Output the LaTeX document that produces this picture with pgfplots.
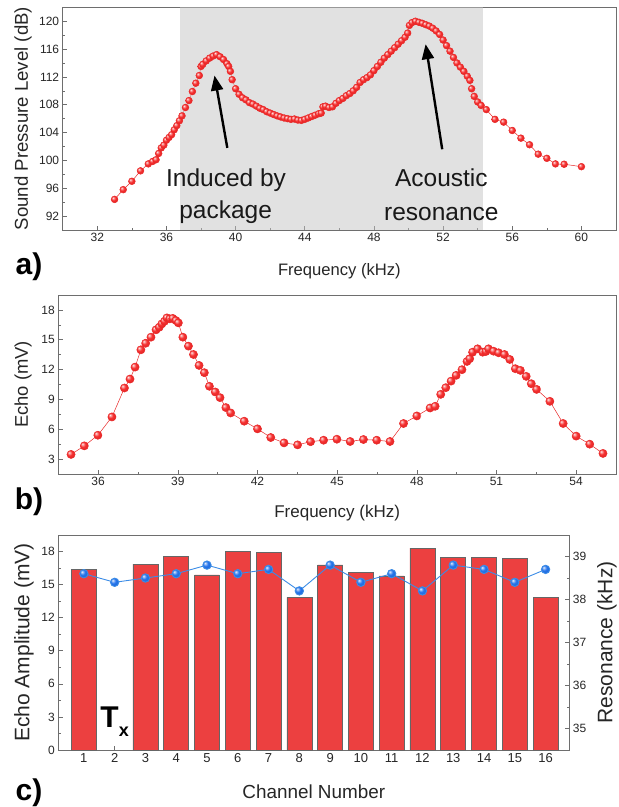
\documentclass[border=0pt]{standalone}
\usepackage{pgfplots}
\pgfplotsset{compat=1.18}
\usepackage{fontspec}
\setmainfont{Liberation Sans}
\usetikzlibrary{arrows.meta}
\makeatletter
\pgfdeclareradialshading[tikz@ball]{ball}{\pgfqpoint{-12bp}{12bp}}{%
  color(0bp)=(tikz@ball!10!white);
  color(8bp)=(tikz@ball!60!white);
  color(16bp)=(tikz@ball);
  color(30bp)=(tikz@ball!92!black);
  color(45bp)=(tikz@ball!75!black);
  color(60bp)=(tikz@ball!60!black)}
\makeatother
\definecolor{myred}{RGB}{232,40,40}
\definecolor{ballred}{RGB}{245,45,45}
\definecolor{barred}{RGB}{236,64,64}
\definecolor{myblue}{RGB}{35,115,235}
\definecolor{lineblue}{RGB}{60,140,230}
\definecolor{shadegray}{RGB}{195,195,195}
\definecolor{framegray}{RGB}{110,110,110}
\pgfplotsset{
  myaxis/.style={
    scale only axis,
    anchor=north west,
    tick align=inside,
    tick pos=left,
    axis line style={framegray, line width=0.8pt},
    every tick/.style={framegray, line width=0.6pt},
    major tick length=4.5pt,
    minor tick length=2.5pt,
    /pgf/number format/assume math mode=true,
    tick label style={font=\fontsize{12}{12}\selectfont, text=black!85},
    label style={text=black!85},
  }
}
\begin{document}
\begin{tikzpicture}
\path[use as bounding box] (0,0) rectangle (619pt,-807pt);
% ---------------- panel a ----------------
\begin{axis}[myaxis,
  at={(62.7pt,-7.3pt)}, width=553.3pt, height=222.7pt,
  xmin=30, xmax=62, ymin=90, ymax=122,
  xtick={32,36,...,60}, ytick={92,96,...,120},
  minor x tick num=1, minor y tick num=1,
  xlabel={Frequency (kHz)}, ylabel={Sound Pressure Level (dB)},
  x label style={at={(axis description cs:0.5,-0.184)}, anchor=center, font=\fontsize{16.6}{16.6}\selectfont},
  y label style={at={(axis description cs:-0.0718,0.5)}, anchor=center, font=\fontsize{18.6}{18.6}\selectfont},
]
\addplot[myred, line width=0.5pt, mark=ball, mark size=3.4pt, mark options={ball color=ballred}] table {
33.0 94.4
33.5 95.8
34.0 97.0
34.5 98.5
34.95 99.5
35.2 99.85
35.4 100.1
35.55 101.0
35.7 101.8
35.85 102.2
36.0 102.9
36.15 103.3
36.3 103.7
36.45 104.4
36.6 105.0
36.75 105.7
36.9 106.4
37.1 107.6
37.3 108.6
37.5 109.9
37.7 111.1
37.9 112.2
38.0 113.5
38.1 113.8
38.3 114.3
38.5 114.7
38.7 115.0
38.9 115.2
39.1 114.9
39.3 114.5
39.5 113.9
39.6 113.5
39.7 112.8
39.8 111.6
40.0 110.3
40.2 109.5
40.4 109.0
40.6 108.7
40.8 108.3
41.0 108.1
41.2 107.8
41.4 107.5
41.6 107.3
41.8 107.0
42.0 106.8
42.2 106.6
42.4 106.4
42.6 106.25
42.8 106.1
43.0 106.0
43.2 105.9
43.4 105.95
43.6 105.8
43.8 105.75
44.0 105.9
44.2 106.1
44.4 106.3
44.6 106.5
44.8 106.7
44.95 106.8
45.05 107.7
45.2 107.8
45.4 107.6
45.6 107.7
45.8 108.2
46.0 108.6
46.2 108.9
46.4 109.3
46.6 109.6
46.8 110.0
47.0 110.5
47.2 111.2
47.4 111.6
47.6 111.9
47.8 112.3
48.0 112.9
48.2 113.5
48.4 114.1
48.6 114.7
48.8 115.2
49.0 115.7
49.2 116.2
49.4 116.7
49.6 117.2
49.8 117.7
49.95 118.3
50.05 119.4
50.2 119.8
50.4 120.0
50.6 119.85
50.8 119.7
51.0 119.5
51.2 119.3
51.4 119.0
51.6 118.6
51.8 118.1
52.0 117.3
52.2 116.5
52.4 115.7
52.6 114.8
52.8 114.0
53.0 113.4
53.2 112.8
53.4 112.1
53.55 111.5
53.65 110.3
53.8 109.2
54.0 108.4
54.2 107.9
54.5 107.3
55.0 105.9
55.5 105.5
56.0 104.3
56.5 103.2
57.0 102.25
57.5 100.9
58.0 100.3
58.5 99.5
59.0 99.45
60.0 99.1
};
\fill[shadegray, opacity=0.5] (axis cs:36.8,90) rectangle (axis cs:54.3,122);
\draw[line width=2.4pt, -{Triangle[length=15pt,width=12pt]}] (axis cs:39.52,101.8) -- (axis cs:38.78,112.2);
\draw[line width=2.4pt, -{Triangle[length=15pt,width=12pt]}] (axis cs:51.95,101.6) -- (axis cs:50.99,116.7);
\node[anchor=base, font=\fontsize{24.5}{24.5}\selectfont, text=black!90] at (axis cs:39.45,96.23) {Induced by};
\node[anchor=base, font=\fontsize{24.5}{24.5}\selectfont, text=black!90] at (axis cs:39.42,91.7) {package};
\node[anchor=base, font=\fontsize{24.5}{24.5}\selectfont, text=black!90] at (axis cs:51.9,96.23) {Acoustic};
\node[anchor=base, font=\fontsize{24.5}{24.5}\selectfont, text=black!90] at (axis cs:51.9,91.4) {resonance};
\end{axis}
% ---------------- panel b ----------------
\begin{axis}[myaxis,
  at={(58.3pt,-295pt)}, width=557.7pt, height=179pt,
  xmin=34.5, xmax=55.5, ymin=1.5, ymax=19.5,
  xtick={36,39,...,54}, ytick={3,6,...,18},
  minor x tick num=1, minor y tick num=1,
  xlabel={Frequency (kHz)}, ylabel={Echo (mV)},
  x label style={at={(axis description cs:0.5,-0.218)}, anchor=center, font=\fontsize{17}{17}\selectfont},
  y label style={at={(axis description cs:-0.0633,0.5)}, anchor=center, font=\fontsize{18.4}{18.4}\selectfont},
]
\addplot[myred, line width=0.5pt, mark=ball, mark size=4.1pt, mark options={ball color=ballred}] table {
34.98 3.47
35.48 4.33
35.99 5.40
36.52 7.24
36.99 10.15
37.20 11.05
37.39 12.25
37.61 13.99
37.79 14.65
37.99 15.26
38.18 16.00
38.30 16.26
38.40 16.60
38.50 16.86
38.59 17.20
38.70 17.10
38.81 17.15
38.93 16.93
39.02 16.70
39.19 15.26
39.40 14.36
39.59 13.52
39.80 12.42
40.00 11.69
40.19 10.32
40.41 9.75
40.59 9.18
40.81 8.18
40.99 7.64
41.50 6.81
42.00 6.04
42.50 5.17
43.00 4.63
43.51 4.43
44.00 4.75
44.49 4.90
44.99 5.00
45.49 4.77
45.99 4.97
46.49 4.90
46.99 4.77
47.50 6.58
48.00 7.34
48.50 8.14
48.69 8.31
48.90 9.51
49.09 10.18
49.29 10.84
49.48 11.42
49.70 11.99
49.89 12.82
49.99 13.09
50.10 13.75
50.29 14.09
50.48 13.75
50.60 13.82
50.70 14.09
50.89 13.85
51.08 13.69
51.30 13.52
51.50 13.02
51.71 12.09
51.90 11.92
52.12 11.32
52.31 10.58
52.51 10.01
53.01 8.81
53.51 6.58
54.00 5.31
54.51 4.50
55.01 3.57
};
\end{axis}
% ---------------- panel c ----------------
\begin{axis}[myaxis,
  at={(58.3pt,-535pt)}, width=511pt, height=215pt,
  xmin=0.17, xmax=16.77, ymin=0, ymax=19.5,
  xtick={1,...,16}, ytick={0,3,...,18},
  minor y tick num=1,
  x tick label style={font=\fontsize{13}{13}\selectfont},
  xlabel={Channel Number}, ylabel={Echo Amplitude (mV)},
  x label style={at={(axis description cs:0.5,-0.195)}, anchor=center, font=\fontsize{18.9}{18.9}\selectfont},
  y label style={at={(axis description cs:-0.0671,0.5)}, anchor=center, font=\fontsize{21}{21}\selectfont},
]
\addplot[ybar, bar width=0.81, bar shift=0pt, fill=barred, draw=black!60, line width=0.6pt] table {
1 16.4
3 16.85
4 17.55
5 15.88
6 18.0
7 17.93
8 13.85
9 16.79
10 16.09
11 15.79
12 18.3
13 17.48
14 17.48
15 17.36
16 13.85
};
\node[font=\fontsize{30}{30}\selectfont\bfseries, text=black] at (axis cs:2,2.6) {T\raisebox{-0.3em}{\fontsize{18}{18}\selectfont x}};
\end{axis}
\begin{axis}[myaxis,
  at={(58.3pt,-535pt)}, width=511pt, height=215pt,
  xmin=0.17, xmax=16.77, ymin=34.5, ymax=39.5,
  axis x line=none, axis y line*=right, tick pos=right,
  ytick={35,...,39}, minor y tick num=1,
  ylabel={Resonance (kHz)},
  y label style={at={(axis description cs:1.0738,0.5)}, anchor=center, rotate=0, font=\fontsize{21}{21}\selectfont},
]
\addplot[lineblue, line width=0.9pt, mark=ball, mark size=4.2pt, mark options={ball color=myblue}] table {
1 38.6
2 38.4
3 38.5
4 38.6
5 38.8
6 38.6
7 38.7
8 38.2
9 38.8
10 38.4
11 38.6
12 38.2
13 38.8
14 38.7
15 38.4
16 38.7
};
\end{axis}
% panel letters
\node[font=\fontsize{30}{30}\selectfont\bfseries] at (29pt,-267pt) {a)};
\node[font=\fontsize{30}{30}\selectfont\bfseries] at (29pt,-502pt) {b)};
\node[font=\fontsize{30}{30}\selectfont\bfseries] at (29pt,-793pt) {c)};
\end{tikzpicture}
\end{document}
